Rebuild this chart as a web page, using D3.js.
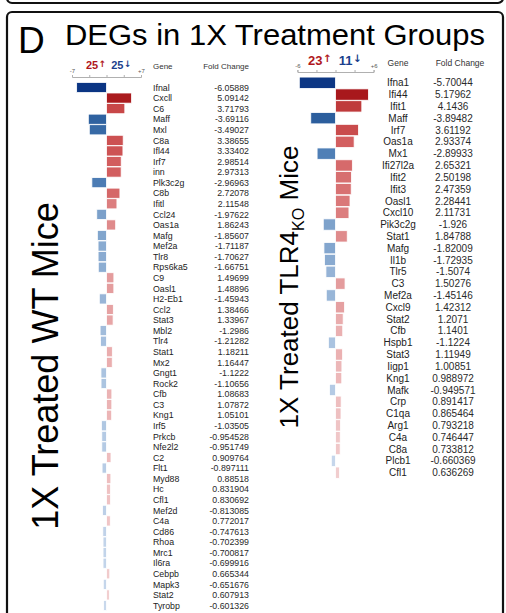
<!DOCTYPE html>
<html>
<head>
<meta charset="utf-8">
<script src="https://cdn.jsdelivr.net/npm/d3@7"></script>
<style>
  html, body { margin: 0; padding: 0; background: #fff; }
  svg { display: block; font-family: "Liberation Sans", Arial, sans-serif; }
</style>
</head>
<body>
<svg id="chart" width="506" height="613"></svg>
<script>
// ---- Data: 1X treated WT mice ----
const wtGenes = ["Ifnal","Cxcll","C6","Maff","Mxl","C8a","Ifl44","Irf7","inn","Plk3c2g",
  "C8b","Ifitl","Ccl24","Oas1a","Mafg","Mef2a","Tlr8","Rps6ka5","C9","Oasl1",
  "H2-Eb1","Ccl2","Stat3","Mbl2","Tlr4","Stat1","Mx2","Gngt1","Rock2","Cfb",
  "C3","Kng1","Irf5","Prkcb","Nfe2l2","C2","Flt1","Myd88","Hc","Cfl1",
  "Mef2d","C4a","Cd86","Rhoa","Mrc1","Il6ra","Cebpb","Mapk3","Stat2","Tyrobp"];
const wtFold = [-6.05889,5.09142,3.71793,-3.69116,-3.49027,3.38655,3.33402,2.98514,2.97313,-2.96963,
  2.72078,2.11548,-1.97622,1.86243,-1.85607,-1.71187,-1.70627,-1.66751,1.49699,1.48896,
  -1.45943,1.38466,1.33967,-1.2986,-1.21282,1.18211,1.16447,-1.1222,-1.10656,1.08683,
  1.07872,1.05101,-1.03505,-0.954528,-0.951749,0.909764,-0.897111,0.88518,0.831904,0.830692,
  -0.813085,0.772017,-0.747613,-0.702399,-0.700817,-0.699916,0.665344,-0.651676,0.607913,-0.601326];
const wtFoldText = ["-6.05889","5.09142","3.71793","-3.69116","-3.49027","3.38655","3.33402","2.98514","2.97313","-2.96963",
  "2.72078","2.11548","-1.97622","1.86243","-1.85607","-1.71187","-1.70627","-1.66751","1.49699","1.48896",
  "-1.45943","1.38466","1.33967","-1.2986","-1.21282","1.18211","1.16447","-1.1222","-1.10656","1.08683",
  "1.07872","1.05101","-1.03505","-0.954528","-0.951749","0.909764","-0.897111","0.88518","0.831904","0.830692",
  "-0.813085","0.772017","-0.747613","-0.702399","-0.700817","-0.699916","0.665344","-0.651676","0.607913","-0.601326"];
const wtDomain = [-7, 7];
const wtTicks = [-7, -3.5, 0, 3.5, 7];

// ---- Data: 1X treated TLR4 KO mice ----
const koGenes = ["Ifna1","Ifi44","Ifit1","Maff","Irf7","Oas1a","Mx1","Ifi27l2a","Ifit2","Ifit3",
  "Oasl1","Cxcl10","Pik3c2g","Stat1","Mafg","Il1b","Tlr5","C3","Mef2a","Cxcl9",
  "Stat2","Cfb","Hspb1","Stat3","Iigp1","Kng1","Mafk","Crp","C1qa","Arg1",
  "C4a","C8a","Plcb1","Cfl1"];
const koFold = [-5.70044,5.17962,4.1436,-3.89482,3.61192,2.93374,-2.89933,2.65321,2.50198,2.47359,
  2.28441,2.11731,-1.926,1.84788,-1.82009,-1.72935,-1.5074,1.50276,-1.45146,1.42312,
  1.2071,1.1401,-1.1224,1.11949,1.00851,0.988972,-0.949571,0.891417,0.865464,0.793218,
  0.746447,0.733812,-0.660369,0.636269];
const koFoldText = ["-5.70044","5.17962","4.1436","-3.89482","3.61192","2.93374","-2.89933","2.65321","2.50198","2.47359",
  "2.28441","2.11731","-1.926","1.84788","-1.82009","-1.72935","-1.5074","1.50276","-1.45146","1.42312",
  "1.2071","1.1401","-1.1224","1.11949","1.00851","0.988972","-0.949571","0.891417","0.865464","0.793218",
  "0.746447","0.733812","-0.660369","0.636269"];
const koDomain = [-6, 6];
const koTicks = [-6, -3, 0, 3, 6];

const titleText = "DEGs in 1X Treatment Groups";
const panelLetter = "D";
const columnHeaders = ["Gene", "Fold Change"];

// ---- Colours: intensity follows |fold change| ----
const upColor = d3.scaleLinear()
  .domain([0.6, 1.1, 1.5, 2.1, 2.9, 3.7, 5.2])
  .range(["#f2cfd0", "#ebb2b3", "#e49c9d", "#dc7f80", "#d36061", "#c84849", "#a8171b"])
  .clamp(true);
const downColor = d3.scaleLinear()
  .domain([0.6, 1.2, 1.9, 2.9, 3.7, 5.8])
  .range(["#c8d8ec", "#a6c0de", "#7fa3cc", "#4f7fb6", "#2f62a0", "#0b3583"])
  .clamp(true);
const barColor = v => v > 0 ? upColor(v) : downColor(-v);

const svg = d3.select("#chart");

// Panel frames
svg.append("rect").attr("x", 7).attr("y", -100).attr("width", 496).attr("height", 103)
  .attr("rx", 5).attr("fill", "none").attr("stroke", "#111").attr("stroke-width", 2.2);
svg.append("rect").attr("x", 7).attr("y", 12).attr("width", 496).attr("height", 700)
  .attr("rx", 5).attr("fill", "none").attr("stroke", "#111").attr("stroke-width", 2.2);

// Title
svg.append("text").attr("x", 18).attr("y", 53).attr("font-size", 37).attr("fill", "#000").text(panelLetter);
svg.append("text").attr("x", 65).attr("y", 45).attr("font-size", 30).attr("fill", "#000")
  .attr("textLength", 420).attr("lengthAdjust", "spacingAndGlyphs").text(titleText);

function drawGroup(cfg) {
  const g = svg.append("g");
  const x = d3.scaleLinear().domain(cfg.domain).range(cfg.xRange);
  const y = d3.scaleBand().domain(d3.range(cfg.genes.length))
    .range([cfg.rowTop, cfg.rowTop + cfg.step * cfg.genes.length]).padding(0.04);

  // axis
  const axis = d3.axisTop(x).tickValues(cfg.ticks).tickSize(2)
    .tickFormat(d => (d === cfg.domain[0] || d === cfg.domain[1]) ? (d > 0 ? "+" + d : String(d)) : "");
  const ag = g.append("g").attr("transform", `translate(0,${cfg.axisY})`).call(axis);
  ag.select(".domain").attr("stroke", "#b0b0b0");
  ag.selectAll(".tick line").attr("stroke", "#b0b0b0").attr("y2", -2);
  ag.selectAll(".tick text").attr("font-size", cfg.axisFont).attr("fill", "#555")
    .attr("font-family", "Liberation Sans, Arial, sans-serif").attr("dy", "0.1em");

  // up / down counts
  const nUp = cfg.values.filter(v => v > 0).length;
  const nDown = cfg.values.filter(v => v < 0).length;
  const arrowStyle = t => t.attr("font-family", "DejaVu Sans, sans-serif")
    .attr("font-size", cfg.countFont * 0.8).attr("font-weight", "bold");
  const ct = g.append("text").attr("x", cfg.countX).attr("y", cfg.countY)
    .attr("font-size", cfg.countFont).attr("font-weight", "bold");
  ct.append("tspan").attr("fill", "#b0171c").text(nUp);
  ct.append("tspan").attr("fill", "#b0171c").attr("dx", 0.5).attr("dy", -cfg.countFont * 0.22).call(arrowStyle).text("↑");
  ct.append("tspan").attr("fill", "#1b3f8c").attr("dx", cfg.countGap).attr("dy", cfg.countFont * 0.22).text(nDown);
  ct.append("tspan").attr("fill", "#1b3f8c").attr("dx", 0.5).attr("dy", -cfg.countFont * 0.22).call(arrowStyle).text("↓");

  // bars
  g.append("g").selectAll("rect").data(cfg.values).join("rect")
    .attr("x", v => x(Math.min(0, v)))
    .attr("width", v => Math.abs(x(v) - x(0)))
    .attr("y", (v, i) => y(i))
    .attr("height", y.bandwidth())
    .attr("fill", v => barColor(v))
    .attr("stroke", "#fff").attr("stroke-width", 0.8);

  // headers
  g.append("text").attr("x", cfg.geneX).attr("y", cfg.headerY).attr("font-size", cfg.headerFont)
    .attr("fill", "#333").attr("text-anchor", cfg.geneAnchor).text(columnHeaders[0]);
  g.append("text").attr("x", cfg.fcHeaderX).attr("y", cfg.headerY).attr("font-size", cfg.headerFont)
    .attr("fill", "#333").attr("text-anchor", cfg.fcHeaderAnchor).text(columnHeaders[1]);

  // gene names and fold change values
  g.append("g").selectAll("text").data(cfg.genes).join("text")
    .attr("x", cfg.geneX).attr("y", (d, i) => y(i) + y.bandwidth() / 2)
    .attr("dy", "0.36em").attr("font-size", cfg.rowFont).attr("fill", "#222")
    .attr("text-anchor", cfg.geneAnchor).text(d => d);
  g.append("g").selectAll("text").data(cfg.valueText).join("text")
    .attr("x", cfg.fcX).attr("y", (d, i) => y(i) + y.bandwidth() / 2)
    .attr("dy", "0.36em").attr("font-size", cfg.rowFont).attr("fill", "#2a2a2a")
    .attr("text-anchor", cfg.fcAnchor).text(d => d);

  // group label (rotated)
  const lab = g.append("text")
    .attr("transform", `translate(${cfg.labelX},${cfg.labelY}) rotate(-90)`)
    .attr("text-anchor", "middle").attr("font-size", cfg.labelFont).attr("fill", "#000");
  cfg.label.forEach(part => {
    const t = lab.append("tspan").text(part.text);
    if (part.sub) t.attr("font-size", cfg.labelFont * 0.62).attr("dy", cfg.labelFont * 0.22);
    if (part.after) t.attr("dy", -cfg.labelFont * 0.22);
  });
}

drawGroup({
  genes: wtGenes, values: wtFold, valueText: wtFoldText,
  domain: wtDomain, ticks: wtTicks, xRange: [72, 141],
  rowTop: 82, step: 10.58, axisY: 77, axisFont: 6,
  countX: 86, countY: 69, countFont: 11, countGap: 5,
  geneX: 153, geneAnchor: "start", fcX: 249, fcAnchor: "end",
  fcHeaderX: 249, fcHeaderAnchor: "end", headerY: 69, headerFont: 8,
  rowFont: 8.8,
  labelX: 58, labelY: 366, labelFont: 36,
  label: [{ text: "1X Treated WT Mice" }]
});

drawGroup({
  genes: koGenes, values: koFold, valueText: koFoldText,
  domain: koDomain, ticks: koTicks, xRange: [297.4, 373.6],
  rowTop: 76.6, step: 11.83, axisY: 72, axisFont: 6,
  countX: 308, countY: 65, countFont: 13, countGap: 7,
  geneX: 398, geneAnchor: "middle", fcX: 453, fcAnchor: "middle",
  fcHeaderX: 460, fcHeaderAnchor: "middle", headerY: 66, headerFont: 8.5,
  rowFont: 10,
  labelX: 298, labelY: 287, labelFont: 26,
  label: [{ text: "1X Treated TLR4" }, { text: "KO", sub: true }, { text: " Mice", after: true }]
});
</script>
</body>
</html>
